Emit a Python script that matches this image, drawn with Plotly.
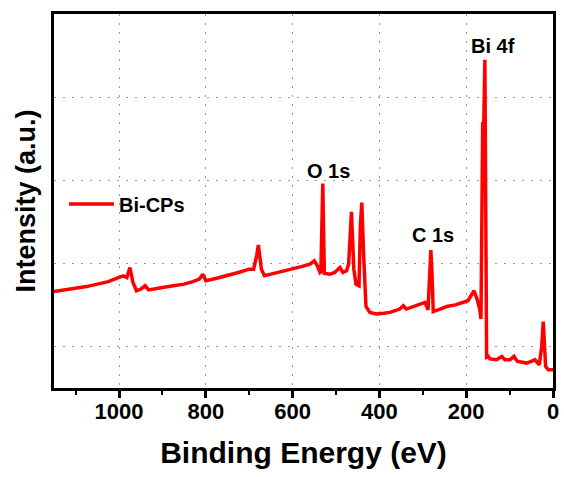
import plotly.graph_objects as go

# XPS survey spectrum of Bi-CPs (binding energy in eV, intensity in a.u.)
binding_energy = [
    1150, 1125, 1100, 1075, 1050, 1025, 1000, 990, 982, 975, 968, 960, 950, 940,
    932, 915, 900, 875, 850, 830, 815, 807, 800, 775, 750, 725, 700, 690, 683,
    679, 672, 665, 650, 625, 600, 580, 560, 550, 543, 537, 535, 530.5, 527, 520,
    514, 503, 491, 484, 476, 471, 466, 464.5, 462, 459, 454, 447, 444, 440.6,
    436, 431, 422, 407, 390, 376, 353, 345, 338, 320, 307, 295, 288, 283.5,
    281.5, 279, 276, 260, 245, 225, 207, 196, 182, 175, 169, 166, 162, 160,
    157, 153, 149, 145, 130, 118, 111, 99, 90, 82, 70, 61, 50, 41.5, 31.5,
    26, 22.5, 17, 11, 5, 0,
]
intensity = [
    1.66, 1.68, 1.69, 1.72, 1.75, 1.78, 1.83, 1.85, 1.83, 1.95, 1.77, 1.67, 1.69, 1.73,
    1.68, 1.70, 1.71, 1.73, 1.75, 1.78, 1.81, 1.87, 1.79, 1.82, 1.85, 1.89, 1.93, 1.93, 2.09,
    2.22, 1.93, 1.85, 1.87, 1.90, 1.93, 1.96, 1.99, 2.03, 1.97, 1.89, 1.90, 2.96, 1.88, 1.87,
    1.87, 1.89, 1.95, 1.89, 1.91, 1.99, 2.45, 2.62, 2.30, 1.93, 1.75, 1.73, 2.45, 2.73,
    2.05, 1.48, 1.41, 1.39, 1.40, 1.41, 1.45, 1.49, 1.45, 1.48, 1.51, 1.53, 1.44, 1.90,
    2.16, 1.90, 1.42, 1.45, 1.48, 1.50, 1.53, 1.55, 1.67, 1.57, 1.45, 1.33, 3.70, 3.55,
    4.45, 0.87, 0.88, 0.85, 0.84, 0.88, 0.84, 0.84, 0.88, 0.82, 0.81, 0.80, 0.82, 0.84, 0.78,
    1.00, 1.30, 0.76, 0.72, 0.72, 0.72,
]

# Peak labels and their positions (binding energy, intensity)
peak_labels = ["Bi 4f", "O 1s", "C 1s"]
label_energy = [138, 518, 276]
label_intensity = [4.61, 3.11, 2.34]

x_ticks = [1000, 800, 600, 400, 200, 0]

FONT = "Liberation Sans, Arial, sans-serif"

fig = go.Figure()
fig.add_trace(go.Scatter(
    x=binding_energy, y=intensity, mode="lines", name="Bi-CPs",
    line=dict(color="#ff0000", width=3.5),
))

for txt, ex, iy in zip(peak_labels, label_energy, label_intensity):
    fig.add_annotation(
        x=ex, y=iy, text=txt, showarrow=False,
        font=dict(family=FONT, size=20, color="black", weight="bold"),
        xanchor="center", yanchor="middle",
    )

fig.update_layout(
    width=564, height=477,
    margin=dict(l=54, r=11, t=14, b=89),
    paper_bgcolor="white", plot_bgcolor="white",
    font=dict(family=FONT, color="black"),
    showlegend=True,
    legend=dict(
        x=0.02, y=0.492, xanchor="left", yanchor="middle",
        bgcolor="rgba(0,0,0,0)", itemwidth=45,
        font=dict(family=FONT, size=20, color="black", weight="bold"),
    ),
    xaxis=dict(
        range=[1150, 0], automargin=False,
        tickvals=x_ticks, ticktext=[str(v) for v in x_ticks],
        ticks="outside", ticklen=7, tickwidth=3, tickcolor="black",
        ticklabelstandoff=-5,
        tickfont=dict(family=FONT, size=22, color="black", weight="bold"),
        showline=True, linewidth=3, linecolor="black", mirror=True,
        showgrid=True, gridcolor="#9a9a9a", gridwidth=1.3, griddash="2px,7px",
        zeroline=False,
        minor=dict(dtick=100, tick0=0, ticks="outside", ticklen=4,
                   tickwidth=2, tickcolor="black", showgrid=False),
        title=dict(text="Binding Energy (eV)", standoff=19,
                   font=dict(family=FONT, size=30, color="black", weight="bold")),
    ),
    yaxis=dict(
        range=[0.5, 5.0], dtick=1, tick0=0, automargin=False,
        showticklabels=False, ticks="",
        showline=True, linewidth=3, linecolor="black", mirror=True,
        showgrid=True, gridcolor="#9a9a9a", gridwidth=1.3, griddash="2px,7px",
        zeroline=False,
        title=dict(text="Intensity (a.u.)", standoff=8,
                   font=dict(family=FONT, size=27, color="black", weight="bold")),
    ),
)

fig.write_html("out.html")
